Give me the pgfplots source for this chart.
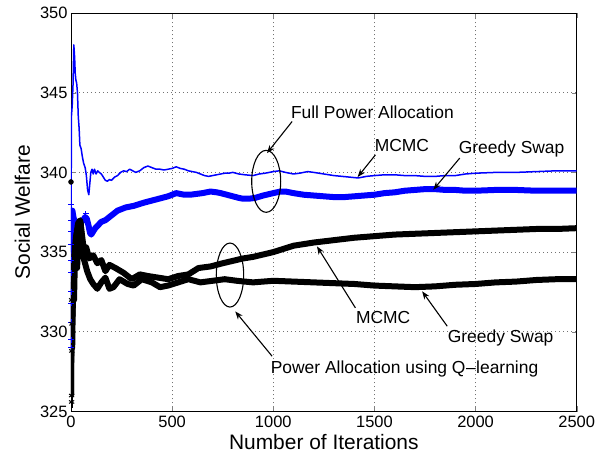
\documentclass[border=0pt]{standalone}
\usepackage{pgfplots}
\pgfplotsset{compat=1.18}
\usepackage{fontspec}
\setmainfont{Liberation Sans}
\usetikzlibrary{arrows.meta}

\begin{document}
\begin{tikzpicture}
\begin{axis}[
  scale only axis,
  width=505.7bp, height=398.5bp,
  xmin=0, xmax=2500, ymin=325, ymax=350,
  xtick={0,500,1000,1500,2000,2500},
  ytick={325,330,335,340,345,350},
  tick align=inside, tick pos=both,
  major tick length=5bp,
  grid=major,
  grid style={dash pattern=on 1bp off 3bp, black!55, line width=0.6bp},
  axis line style={line width=0.8bp},
  /pgf/number format/assume math mode=true,
  /pgf/number format/1000 sep={},
  ticklabel style={font=\fontsize{16.5}{19}\selectfont},
  xticklabel style={yshift=-1.5bp},
  every axis x label/.style={at={(axis description cs:0.5,-0.0778)}, anchor=center},
  every axis y label/.style={at={(axis description cs:-0.096,0.5)}, rotate=90, anchor=center},
  label style={font=\fontsize{21}{24}\selectfont},
  xlabel={Number of Iterations},
  ylabel={Social Welfare},
  clip=true,
]
% Greedy swap, full power (thick blue)
\addplot[blue, line width=6bp, line join=round] coordinates {
(0,329.0) (2,333.0) (4,336.0) (7,337.6) (12,337.2) (20,336.8) (30,336.6) (40,336.7) (50,336.9) (60,337.0) (70,337.2) (78,337.1) (86,336.7) (94,336.2) (100,336.1) (110,336.3) (120,336.5) (135,336.7) (150,336.9) (170,337.0) (190,337.2) (210,337.4) (230,337.6) (250,337.7) (270,337.8) (290,337.85) (310,337.9) (335,338.0) (360,338.1) (390,338.2) (420,338.3) (450,338.4) (480,338.5) (500,338.6) (520,338.7) (540,338.65) (560,338.6) (590,338.6) (620,338.65) (650,338.7) (690,338.8) (720,338.75) (740,338.7) (770,338.6) (800,338.5) (830,338.4) (850,338.35) (880,338.35) (910,338.4) (950,338.55) (1000,338.7) (1035,338.8) (1060,338.8) (1100,338.7) (1150,338.6) (1200,338.55) (1250,338.5) (1300,338.45) (1350,338.45) (1400,338.5) (1450,338.55) (1500,338.6) (1550,338.7) (1600,338.75) (1650,338.85) (1700,338.9) (1750,338.95) (1800,338.95) (1850,338.9) (1900,338.9) (1950,338.85) (2000,338.85) (2100,338.9) (2200,338.9) (2300,338.85) (2400,338.85) (2500,338.85)
};
% MCMC, full power (thin blue)
\addplot[blue, line width=1.5bp, line join=round] coordinates {
(0,335.0) (2,343.5) (6,344.2) (10,345.5) (14,348.0) (18,347.2) (21,346.2) (24,345.8) (28,345.6) (32,345.0) (36,343.5) (40,342.8) (44,341.7) (50,341.5) (56,341.0) (62,340.6) (70,340.3) (76,339.8) (82,338.9) (88,338.6) (93,339.3) (98,340.0) (104,340.2) (110,339.9) (116,340.2) (124,339.9) (132,340.1) (140,340.0) (150,339.9) (160,339.7) (170,339.5) (180,339.45) (190,339.55) (200,339.5) (215,339.7) (230,339.8) (245,340.0) (260,340.1) (275,340.05) (290,340.2) (305,340.1) (320,340.0) (340,340.1) (360,340.3) (380,340.4) (400,340.3) (420,340.2) (440,340.2) (460,340.15) (480,340.2) (500,340.25) (520,340.35) (540,340.25) (560,340.2) (580,340.1) (600,340.05) (620,340.0) (640,339.9) (660,339.8) (680,339.75) (700,339.8) (720,339.85) (740,339.9) (760,339.95) (780,339.95) (800,340.0) (830,339.9) (860,339.85) (900,339.8) (930,339.9) (960,339.95) (1000,340.05) (1030,340.1) (1060,340.0) (1100,339.9) (1130,339.95) (1170,340.05) (1200,340.0) (1250,339.9) (1300,339.8) (1340,339.75) (1380,339.7) (1420,339.65) (1460,339.75) (1500,339.8) (1550,339.85) (1600,339.85) (1650,339.8) (1700,339.8) (1750,339.75) (1800,339.75) (1850,339.8) (1900,339.8) (1950,339.9) (2000,339.95) (2100,340.0) (2200,340.0) (2300,340.05) (2400,340.1) (2500,340.1)
};
% blue + markers near the start
\addplot[blue, only marks, mark=+, mark size=3bp, line width=1bp] coordinates {
(2,338.0) (2,337.0) (2,336.3) (2,335.5) (2,334.5) (2,333.7) (2,332.5) (2,331.8) (2,330.6) (2,329.5) (2,329.0) (74,337.4)
};
% MCMC, Q-learning (thick black, upper)
\addplot[black, line width=6bp, line join=round] coordinates {
(0,326.0) (2,330.0) (5,333.0) (8,331.0) (12,334.0) (18,335.0) (25,336.0) (35,336.8) (45,337.0) (55,336.0) (65,335.0) (75,335.3) (90,334.6) (110,334.8) (130,334.3) (150,334.5) (170,333.8) (190,334.2) (220,334.0) (260,333.7) (300,333.3) (340,333.6) (380,333.5) (430,333.4) (480,333.3) (530,333.5) (580,333.6) (630,334.0) (690,334.1) (750,334.3) (800,334.45) (850,334.6) (900,334.7) (950,334.85) (1000,335.0) (1050,335.2) (1100,335.4) (1150,335.5) (1200,335.6) (1300,335.75) (1400,335.9) (1500,336.0) (1600,336.1) (1700,336.15) (1800,336.2) (1900,336.25) (2000,336.3) (2100,336.35) (2200,336.4) (2300,336.45) (2400,336.45) (2500,336.5)
};
% Greedy swap, Q-learning (thick black, lower)
\addplot[black, line width=6bp, line join=round] coordinates {
(0,326.0) (3,331.0) (6,329.0) (10,333.0) (15,332.0) (20,335.0) (30,334.0) (40,336.5) (48,336.8) (55,335.5) (65,334.5) (80,333.8) (95,333.3) (110,333.0) (130,332.7) (150,333.1) (170,333.4) (190,332.7) (210,332.8) (240,333.3) (280,333.0) (310,332.9) (350,333.3) (400,333.1) (440,332.8) (480,332.9) (530,333.1) (580,333.3) (640,333.1) (700,333.2) (760,333.3) (820,333.2) (900,333.1) (1000,333.2) (1100,333.15) (1200,333.1) (1300,333.05) (1400,333.0) (1500,332.9) (1600,332.85) (1700,332.8) (1800,332.85) (1900,332.95) (2000,333.0) (2100,333.1) (2200,333.15) (2300,333.25) (2400,333.3) (2500,333.3)
};
% black start spikes and markers
\addplot[black, line width=2bp] coordinates {(3,325.2) (3,332.0)};
\addplot[black, only marks, mark=asterisk, mark size=3bp, line width=1bp] coordinates {
(3,326.0) (3,325.6) (3,332.0) (5,330.5) (4,328.8)
};
\addplot[black, only marks, mark=*, mark size=2.5bp] coordinates {(0,339.4)};

% annotations
\draw[line width=1.1bp] (axis cs:965,339.44) ellipse [x radius=14.5bp, y radius=31bp];
\draw[line width=1.1bp] (axis cs:786,333.56) ellipse [x radius=13.7bp, y radius=32bp];
\tikzset{ann/.style={line width=1.1bp, -{Stealth[length=8bp,width=6bp,inset=2.5bp]}}}
\draw[ann] (axis cs:1093,343.19) -- (axis cs:969,341.21);
\draw[ann] (axis cs:1505,341.10) -- (axis cs:1417,339.71);
\draw[ann] (axis cs:1922,340.90) -- (axis cs:1791,338.91);
\draw[ann] (axis cs:994,328.47) -- (axis cs:812,331.28);
\draw[ann] (axis cs:1406,331.50) -- (axis cs:1216,335.36);
\draw[ann] (axis cs:1860,330.35) -- (axis cs:1736,332.54);
\begin{scope}[every node/.style={font=\fontsize{17.5}{20}\selectfont, inner sep=0pt}]
\node at (axis cs:1490,343.8) {Full Power Allocation};
\node at (axis cs:1636,341.69) {MCMC};
\node at (axis cs:2178,341.48) {Greedy Swap};
\node at (axis cs:1649,327.69) {Power Allocation using Q\kern0.5pt--\kern0.5pt learning};
\node at (axis cs:1543,330.87) {MCMC};
\node at (axis cs:2124,329.62) {Greedy Swap};
\end{scope}
\end{axis}
\pgfresetboundingbox
\path[use as bounding box] ([shift={(-71bp,-44.5bp)}]current axis.south west) rectangle ([shift={(30.3bp,13bp)}]current axis.north east);
\end{tikzpicture}
\end{document}
